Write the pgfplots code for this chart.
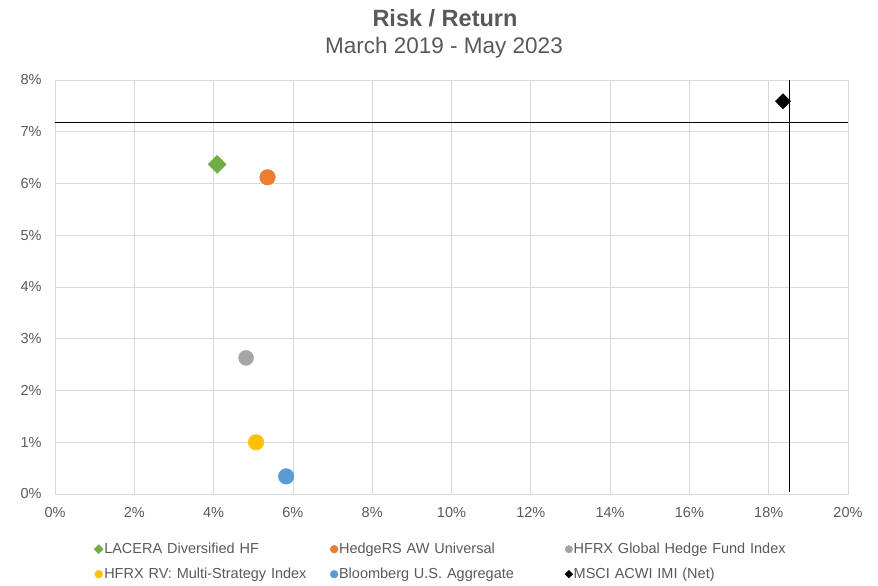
\documentclass[border=0pt]{standalone}
\usepackage{pgfplots}
\pgfplotsset{compat=1.18}
\usepackage{fontspec}
\setmainfont{Liberation Sans}

\definecolor{txtgray}{HTML}{595959}
\definecolor{gridgray}{HTML}{D9D9D9}
\definecolor{cgreen}{HTML}{70AD47}
\definecolor{corange}{HTML}{ED7D31}
\definecolor{cgray}{HTML}{A5A5A5}
\definecolor{cyellow}{HTML}{FFC000}
\definecolor{cblue}{HTML}{5B9BD5}

\begin{document}
\begin{tikzpicture}
\useasboundingbox (-55bp,-92bp) rectangle (823bp,494bp);
\node[text=txtgray, font=\fontsize{23.5bp}{27bp}\selectfont\bfseries] at (390bp,476bp) {Risk / Return};
\node[text=txtgray, font=\fontsize{22.5bp}{27bp}\selectfont] at (389bp,446bp) {March 2019 - May 2023};
\begin{axis}[
  at={(0,0)}, anchor=south west,
  scale only axis, width=793bp, height=414bp,
  xmin=0, xmax=20, ymin=0, ymax=8,
  xtick={0,2,...,20}, ytick={0,1,...,8},
  xticklabel={\pgfmathprintnumber{\tick}\%},
  yticklabel={\pgfmathprintnumber{\tick}\%},
  /pgf/number format/assume math mode=true,
  tick label style={text=txtgray, font=\fontsize{14.5bp}{17bp}\selectfont},
  xticklabel style={yshift=-10bp},
  yticklabel style={xshift=-10bp},
  major tick length=0pt,
  grid=major,
  major grid style={gridgray, line width=0.8bp},
  axis line style={gridgray, line width=0.8bp},
  clip=false,
  legend columns=3,
  legend style={at={(axis description cs:0,0)}, anchor=north west,
    xshift=39bp, yshift=-48bp, draw=none, fill=none, inner sep=0pt,
    row sep=11bp, column sep=0pt,
    font=\fontsize{14.5bp}{17bp}\selectfont, text=txtgray,
    nodes={inner sep=1bp, anchor=west},
    /tikz/every even column/.append style={text width=225bp, align=left}},
  legend image code/.code={\draw[mark repeat=2,mark phase=2,#1] plot coordinates {(0bp,0bp)(4bp,0bp)(8bp,0bp)};},
  legend image post style={every mark/.append style={scale=0.5}},
]
% reference lines through the benchmark
\addplot[black, line width=0.8bp, forget plot] coordinates {(0,7.19) (20,7.19)};
\addplot[black, line width=0.8bp, forget plot] coordinates {(18.52,0.04) (18.52,8)};

\addplot[only marks, mark=square*, mark size=6.4bp, mark options={rotate=45, draw=cgreen, fill=cgreen}] coordinates {(4.09,6.37)};
\addlegendentry{LACERA Diversified HF}
\addplot[only marks, mark=*, mark size=7.8bp, mark options={draw=corange, fill=corange}] coordinates {(5.36,6.12)};
\addlegendentry{HedgeRS AW Universal}
\addplot[only marks, mark=*, mark size=7.5bp, mark options={draw=cgray, fill=cgray}] coordinates {(4.82,2.63)};
\addlegendentry{HFRX Global Hedge Fund Index}
\addplot[only marks, mark=*, mark size=7.8bp, mark options={draw=cyellow, fill=cyellow}] coordinates {(5.07,1.00)};
\addlegendentry{HFRX RV: Multi-Strategy Index}
\addplot[only marks, mark=*, mark size=7.8bp, mark options={draw=cblue, fill=cblue}] coordinates {(5.83,0.34)};
\addlegendentry{Bloomberg U.S. Aggregate}
\addplot[only marks, mark=square*, mark size=5.4bp, mark options={rotate=45, draw=black, fill=black}] coordinates {(18.36,7.59)};
\addlegendentry{MSCI ACWI IMI (Net)}
\end{axis}
\end{tikzpicture}
\end{document}
